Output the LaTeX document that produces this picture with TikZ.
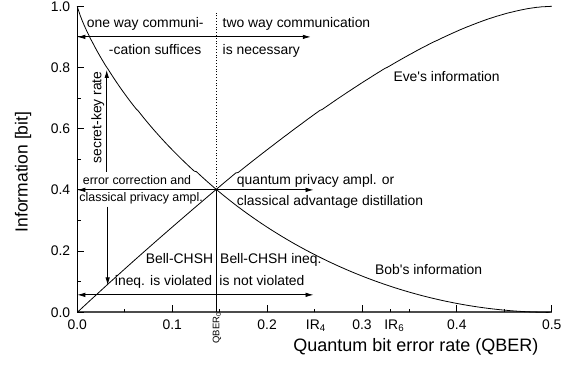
\documentclass[tikz,border=0pt]{standalone}
\usepackage{fontspec}
\setmainfont{Liberation Sans}
\usetikzlibrary{arrows.meta}
\tikzset{
	txt/.style={
		inner sep=0pt,
		font=\fontsize{13.9}{16}\selectfont
	},
	smalltxt/.style={
		inner sep=0pt,
		font=\fontsize{12.4}{14}\selectfont
	},
	curve/.style={line width=0.8pt},
	arrow/.style={line width=0.8pt,->,>={Latex[length=8pt,width=4.5pt]}},
	darrow/.style={arrow,<->},
	xaxis/.style={line width=1.6pt,black!70},
	tick/.style={line width=0.9pt},
	declare function={
		hb(\p)=-(\p*ln(\p)+(1-\p)*ln(1-\p))/ln(2);
		qe(\t)=(0.5-\t)*(0.5-\t)/(0.5+sqrt(0.25-(0.5-\t)*(0.5-\t)));
	}
}

\begin{document}
\begin{tikzpicture}[x=949pt,y=306pt]
	\useasboundingbox (-77.3pt,-53.7pt) rectangle (493.7pt,312.3pt);

	% axes
	\draw[xaxis] (0,0) -- (0.5,0);
	\draw[line width=0.8pt] (0,0) -- (0,1);
	\foreach \x/\l in {0/0.0,0.1/0.1,0.2/0.2,0.3/0.3,0.4/0.4,0.5/0.5} {
		\draw[tick] (\x,0) -- ++(0,7pt);
		\node[txt,anchor=base,yshift=-17pt] at (\x,0) {\l};
	}
	\foreach \x in {0.05,0.15,0.25,0.33,0.35,0.45}
		\draw[tick] (\x,0) -- ++(0,3.5pt);
	\foreach \y/\l in {0/0.0,0.2/0.2,0.4/0.4,0.6/0.6,0.8/0.8,1/1.0} {
		\draw[tick] (0,\y) -- ++(7pt,0);
		\node[txt,anchor=east,xshift=-7pt] at (0,\y) {\l};
	}
	\foreach \y in {0.1,0.3,0.5,0.7,0.9}
		\draw[tick] (0,\y) -- ++(3.5pt,0);

	\node[txt,anchor=base,yshift=-17pt] (ir4) at (0.2514,0) {IR\textsubscript{4}};
	\node[txt,anchor=base,yshift=-17pt] (ir6) at (0.334,0) {IR\textsubscript{6}};
	\node[inner sep=0pt,rotate=90,anchor=base east,yshift=-2pt,font=\fontsize{9.5}{11}\selectfont] (qberlbl) at (0.1475,0) {QBER\textsubscript{0}};

	\node[inner sep=0pt,font=\fontsize{18}{20}\selectfont,anchor=base,yshift=-39.5pt] (xlabel) at (0.3567,0) {Quantum bit error rate (QBER)};
	\node[inner sep=0pt,font=\fontsize{17.5}{20}\selectfont,rotate=90] (ylabel) at (-0.0572,0.4585) {Information [bit]};

	% curves
	\draw[curve] (0,1) -- plot[domain=0.0005:0.5,samples=220] (\x,{1-hb(\x)});
	\draw[curve] plot[domain=0:0.49,samples=200] (\x,{1-hb(qe(\x))}) -- (0.5,1);

	% QBER_0 line and arrows
	\coordinate (qb0) at (0.1464,0.4);
	\coordinate (qtop) at (0.1464,0.98);
	\coordinate (qbot) at (0.1464,0);
	\draw[line width=0.6pt,dash pattern=on 0.8pt off 2pt] (qb0) -- (qtop);
	\draw[line width=0.8pt] (qb0) -- (qbot);
	\draw[arrow] (qb0) -- (0,0.4);
	\draw[arrow] (qb0) -- (0.249,0.4);
	\draw[darrow] (0,0.9) -- (0.246,0.9);
	\draw[darrow] (0,0.057) -- (0.249,0.057);
	\draw[arrow] (0.031,0.46) -- (0.031,0.792);
	\draw[arrow] (0.032,0.345) -- (0.032,0.088);

	% labels
	\node[txt,anchor=base west] (oneway) at (0.0099,0.93) {one way communi-};
	\node[txt,anchor=base east] (cation) at (0.131,0.841) {-cation suffices};
	\node[txt,anchor=base west] (twoway) at (0.153,0.93) {two way communication};
	\node[txt,anchor=base west] (necessary) at (0.153,0.841) {is necessary};
	\node[txt,anchor=base west] (eve) at (0.333,0.753) {Eve\textquotesingle s information};
	\node[txt,anchor=base,rotate=90] (skr) at (0.0255,0.637) {secret-key rate};
	\node[smalltxt,anchor=base west] (errcorr) at (0.0057,0.416) {error correction and};
	\node[smalltxt,anchor=base west] (clpa) at (0.0021,0.362) {classical privacy ampl.};
	\node[txt,anchor=base west] (qpa) at (0.168,0.416) {quantum privacy ampl. or};
	\node[txt,anchor=base west] (cad) at (0.168,0.349) {classical advantage distillation};
	\node[txt,anchor=base east] (bellL) at (0.1433,0.160) {Bell-CHSH};
	\node[txt,anchor=base east] (violL) at (0.1422,0.0876) {ineq. is violated};
	\node[txt,anchor=base west] (bellR) at (0.1504,0.160) {Bell-CHSH ineq.};
	\node[txt,anchor=base west] (violR) at (0.1496,0.0876) {is not violated};
	\node[txt,anchor=base west] (bob) at (0.3137,0.125) {Bob\textquotesingle s information};
\end{tikzpicture}
\end{document}
